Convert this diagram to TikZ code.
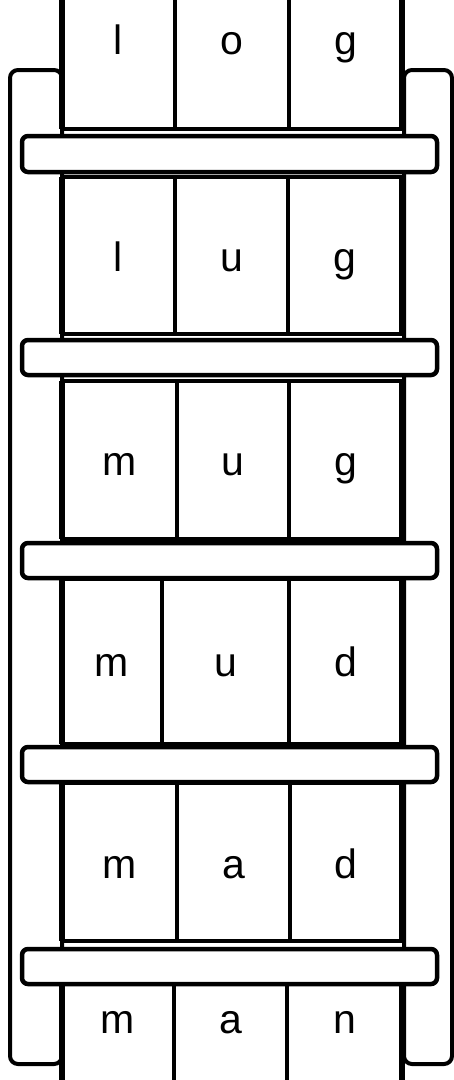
\documentclass[tikz,border=0pt]{standalone}
\usepackage{fontspec}
\setmainfont{Liberation Sans}
\usepackage{tikz}
\usetikzlibrary{positioning}

\tikzset{
  rail/.style={draw, fill=white, line width=4pt, rounded corners=8pt},
  rung/.style={draw, fill=white, line width=4.5pt, rounded corners=6pt},
  cellline/.style={draw, line width=3.5pt},
  edgeline/.style={draw, line width=6pt},
  letter/.style={font=\fontsize{41}{49}\selectfont, anchor=base, inner sep=0pt}
}

\begin{document}
\begin{tikzpicture}[x=1pt, y=-1pt]
\useasboundingbox (0,0) rectangle (454,1080);
\clip (0,0) rectangle (454,1080);
% side rails
\draw[rail] (10,70) rectangle (62,1064);
\draw[rail] (404,70) rectangle (452,1064);
% one word per step: top/bottom/dividers/baseline/letters
\foreach \top/\bot/\da/\db/\base/\a/\b/\c/\n in {
    -40/129/175/289/54/l/o/g/1,
    177/334/175/288/271/l/u/g/2,
    381/539/177/289/475/m/u/g/3,
    579/744/162/289/676/m/u/d/4,
    783/941/177/290/878/m/a/d/5,
    978/1120/174/287/1033/m/a/n/6} {
  \fill[white] (62,\top) rectangle (402,\bot);
  \draw[cellline] (62,\top) -- (402,\top);
  \draw[cellline] (62,\bot) -- (402,\bot);
  \draw[cellline] (\da,\top) -- (\da,\bot);
  \draw[cellline] (\db,\top) -- (\db,\bot);
  \draw[edgeline] (62,\top) -- (62,\bot);
  \draw[edgeline] (402,\top) -- (402,\bot);
  \node[letter] (w\n-1) at ({(62+\da)/2},\base) {\a};
  \node[letter] (w\n-2) at ({(\da+\db)/2},\base) {\b};
  \node[letter] (w\n-3) at ({(\db+402)/2},\base) {\c};
}
% rungs
\foreach \top/\bot in {136/172, 340/375, 543/578, 747/782, 949/984}
  \draw[rung] (22,\top) rectangle (437,\bot);
\end{tikzpicture}
\end{document}
